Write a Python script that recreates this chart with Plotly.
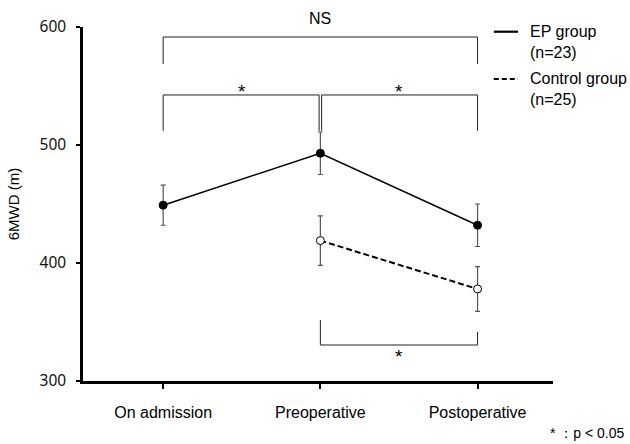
import plotly.graph_objects as go

# ---- data ----
categories = ["On admission", "Preoperative", "Postoperative"]
ep_mean = [449, 493, 432]
ep_err = [17, 18, 18]
ctrl_categories = ["Preoperative", "Postoperative"]
ctrl_mean = [419, 378]
ctrl_err = [21, 19]

y_ticks = [300, 400, 500, 600]
y_range = [300, 600]

# significance brackets (category indices, y levels in m)
bracket_x0 = [0, 0, 1, 1]
bracket_x1 = [2, 1, 2, 2]
bracket_bar = [591.5, 542.4, 542.4, 330.5]
bracket_end_left = [568.6, 512, 512, 351.7]
bracket_end_right = [568.6, 512, 512, 341.5]
bracket_label = ["NS", "*", "*", "*"]
bracket_label_y = [606.8, 545.0, 545.0, 321.0]
bracket_label_size = [16, 19, 19, 19]
bracket_offset = [0, -0.008, 0.008, 0]   # tiny offset so adjoining brackets show a double line

legend_names = ["EP group<br>(n=23)", "Control group<br>(n=25)"]

FONT = "Liberation Sans, Arial, sans-serif"

fig = go.Figure()

fig.add_trace(go.Scatter(
    x=categories, y=ep_mean, mode="lines+markers",
    line=dict(color="black", width=1.5),
    marker=dict(color="black", size=8, line=dict(color="black", width=1)),
    error_y=dict(type="data", array=ep_err, color="#555555", thickness=1.2, width=2.5),
    showlegend=False, cliponaxis=False,
))
fig.add_trace(go.Scatter(
    x=ctrl_categories, y=ctrl_mean, mode="lines+markers",
    line=dict(color="black", width=2, dash="6px,3px"),
    marker=dict(color="white", size=8, line=dict(color="black", width=1)),
    error_y=dict(type="data", array=ctrl_err, color="#555555", thickness=1.2, width=2.5),
    showlegend=False, cliponaxis=False,
))

def to_paper(v):
    return (v - y_range[0]) / (y_range[1] - y_range[0])

shapes = []
annotations = []
for x0, x1, bar, el, er, lab, ly, fs, off in zip(bracket_x0, bracket_x1, bracket_bar,
                                                  bracket_end_left, bracket_end_right,
                                                  bracket_label, bracket_label_y,
                                                  bracket_label_size, bracket_offset):
    xa = x0 + (off if off > 0 else 0)
    xb = x1 + (off if off < 0 else 0)
    line = dict(color="#222222", width=1)
    shapes.append(dict(type="line", xref="x", yref="y", x0=xa, x1=xb, y0=bar, y1=bar, line=line))
    shapes.append(dict(type="line", xref="x", yref="y", x0=xa, x1=xa, y0=bar, y1=el, line=line))
    shapes.append(dict(type="line", xref="x", yref="y", x0=xb, x1=xb, y0=bar, y1=er, line=line))
    annotations.append(dict(x=(x0 + x1) / 2, y=to_paper(ly), xref="x", yref="paper", text=lab,
                            showarrow=False, font=dict(family=FONT, size=fs, color="black"),
                            xanchor="center", yanchor="middle"))

# manual legend (paper coords)
legend_y = [0.9867, 0.8531]
legend_dash = ["solid", "5px,3px"]
for name, yy, dash in zip(legend_names, legend_y, legend_dash):
    shapes.append(dict(type="line", xref="paper", yref="paper", x0=0.874, x1=0.9255,
                       y0=yy, y1=yy, line=dict(color="black", width=2.2, dash=dash)))
    annotations.append(dict(x=0.946, y=yy + 0.03, xref="paper", yref="paper", text=name,
                            showarrow=False, align="left", xanchor="left", yanchor="top",
                            font=dict(family=FONT, size=16, color="black")))

annotations.append(dict(x=1.158, y=-0.147, xref="paper", yref="paper", text="* ：p < 0.05",
                        showarrow=False, xanchor="right", yanchor="middle",
                        font=dict(family=FONT, size=14, color="black")))

fig.update_layout(
    width=630, height=444,
    margin=dict(l=83, r=77, t=27, b=63),
    plot_bgcolor="white", paper_bgcolor="white",
    shapes=shapes, annotations=annotations,
    xaxis=dict(
        type="category", categoryorder="array", categoryarray=categories,
        range=[-0.51, 2.48], showline=True, linecolor="black", linewidth=2.5,
        ticks="outside", ticklen=5, tickwidth=2, tickcolor="black",
        showgrid=False, zeroline=False, ticklabelstandoff=10, automargin=False,
        tickfont=dict(family=FONT, size=16, color="black"),
    ),
    yaxis=dict(
        range=y_range, tickvals=y_ticks, showline=True, linecolor="black", linewidth=2.5,
        ticks="outside", ticklen=4, tickwidth=2, tickcolor="black",
        showgrid=False, zeroline=False, ticklabelstandoff=7, automargin=False,
        tickfont=dict(family="Noto Sans, Open Sans, sans-serif", size=15.5, color="#111111"),
        title=dict(text="6MWD (m)", font=dict(family=FONT, size=15, color="black"), standoff=17),
    ),
)

fig.write_html(
    "out.html",
    config={"displayModeBar": False},
    post_script="document.body.style.margin='0';document.body.style.overflow='hidden';",
)
